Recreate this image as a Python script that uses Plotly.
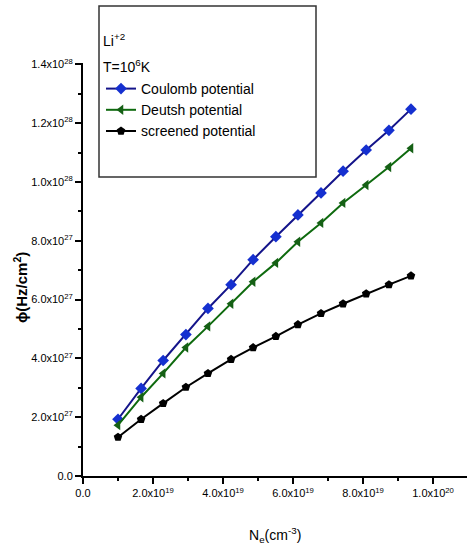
import plotly.graph_objects as go

# Data (x in cm^-3, y in Hz/cm^2)
ne = [1.0e19, 1.66e19, 2.29e19, 2.94e19, 3.57e19, 4.23e19, 4.86e19,
      5.51e19, 6.14e19, 6.80e19, 7.43e19, 8.09e19, 8.74e19, 9.37e19]
coulomb = [1.93e27, 2.98e27, 3.93e27, 4.81e27, 5.70e27, 6.51e27, 7.36e27,
           8.14e27, 8.88e27, 9.63e27, 1.037e28, 1.109e28, 1.176e28, 1.248e28]
deutsh = [1.73e27, 2.68e27, 3.49e27, 4.37e27, 5.09e27, 5.86e27, 6.61e27,
          7.25e27, 7.97e27, 8.61e27, 9.29e27, 9.90e27, 1.051e28, 1.115e28]
screened = [1.32e27, 1.93e27, 2.47e27, 3.02e27, 3.49e27, 3.97e27, 4.37e27,
            4.75e27, 5.15e27, 5.53e27, 5.86e27, 6.20e27, 6.51e27, 6.81e27]

x_tickvals = [0, 2e19, 4e19, 6e19, 8e19, 1e20]
x_ticktext = ["0.0", "2.0x10<sup>19</sup>", "4.0x10<sup>19</sup>", "6.0x10<sup>19</sup>",
              "8.0x10<sup>19</sup>", "1.0x10<sup>20</sup>"]
y_tickvals = [0, 2e27, 4e27, 6e27, 8e27, 1e28, 1.2e28, 1.4e28]
y_ticktext = ["0.0", "2.0x10<sup>27</sup>", "4.0x10<sup>27</sup>", "6.0x10<sup>27</sup>",
              "8.0x10<sup>27</sup>", "1.0x10<sup>28</sup>", "1.2x10<sup>28</sup>",
              "1.4x10<sup>28</sup>"]

FONT = "Arial, Liberation Sans, sans-serif"

fig = go.Figure()
fig.add_trace(go.Scatter(x=ne, y=coulomb, mode="lines+markers", name="Coulomb potential",
                         line=dict(color="#14148a", width=2),
                         marker=dict(symbol="diamond", size=9, color="#1530d0")))
fig.add_trace(go.Scatter(x=ne, y=deutsh, mode="lines+markers", name="Deutsh potential",
                         line=dict(color="#0e6a0e", width=2),
                         marker=dict(symbol="triangle-left", size=9, color="#156015")))
fig.add_trace(go.Scatter(x=ne, y=screened, mode="lines+markers", name="screened potential",
                         line=dict(color="#000000", width=2),
                         marker=dict(symbol="pentagon", size=9, color="#000000")))

L, R, T, B = 83, 0, 63, 79
W, H = 467, 555
pw, ph = W - L - R, H - T - B

def px(x):
    return (x - L) / pw

def py(y):
    return (H - B - y) / ph

fig.update_layout(
    width=W, height=H,
    margin=dict(l=L, r=R, t=T, b=B),
    paper_bgcolor="white", plot_bgcolor="white",
    font=dict(family=FONT, color="black"),
    showlegend=True,
    legend=dict(x=px(101), y=py(73), xanchor="left", yanchor="top",
                bgcolor="rgba(0,0,0,0)", borderwidth=0,
                font=dict(size=14, family=FONT), tracegroupgap=0,
                itemwidth=30),
    xaxis=dict(range=[0, 1.097e20], tickmode="array", tickvals=x_tickvals, ticktext=x_ticktext,
               ticks="outside", ticklen=6, tickwidth=1.5, tickcolor="black",
               showline=True, linecolor="black", linewidth=2, showgrid=False, zeroline=False,
               tickfont=dict(size=11, family=FONT),
               minor=dict(tickmode="linear", tick0=0, dtick=1e19, ticks="outside",
                          ticklen=3, tickwidth=1.5, tickcolor="black", showgrid=False)),
    yaxis=dict(range=[0, 1.405e28], tickmode="array", tickvals=y_tickvals, ticktext=y_ticktext,
               ticks="outside", ticklen=6, tickwidth=1.5, tickcolor="black",
               showline=True, linecolor="black", linewidth=2, showgrid=False, zeroline=False,
               tickfont=dict(size=11, family=FONT),
               minor=dict(tickmode="linear", tick0=0, dtick=1e27, ticks="outside",
                          ticklen=3, tickwidth=1.5, tickcolor="black", showgrid=False)),
    shapes=[dict(type="rect", xref="paper", yref="paper",
                 x0=px(99), x1=px(316), y0=py(177), y1=py(6),
                 line=dict(color="#333333", width=1.5), fillcolor="rgba(0,0,0,0)")],
    annotations=[
        dict(text="Li<sup>+2</sup>", xref="paper", yref="paper", x=px(101), y=py(40),
             xanchor="left", yanchor="middle", showarrow=False, font=dict(size=14, family=FONT)),
        dict(text="T=10<sup>6</sup>K", xref="paper", yref="paper", x=px(101), y=py(66),
             xanchor="left", yanchor="middle", showarrow=False, font=dict(size=14, family=FONT)),
        dict(text="<b>ϕ(Hz/cm<sup>2</sup>)</b>", xref="paper", yref="paper", x=px(20), y=py(288),
             xanchor="center", yanchor="middle", textangle=-90, showarrow=False,
             font=dict(size=15, family=FONT)),
        dict(text="N<sub>e</sub>(cm<sup>-3</sup>)", xref="paper", yref="paper", x=px(275), y=py(535),
             xanchor="center", yanchor="middle", showarrow=False, font=dict(size=14, family=FONT)),
    ],
)

fig.write_html("out.html")
